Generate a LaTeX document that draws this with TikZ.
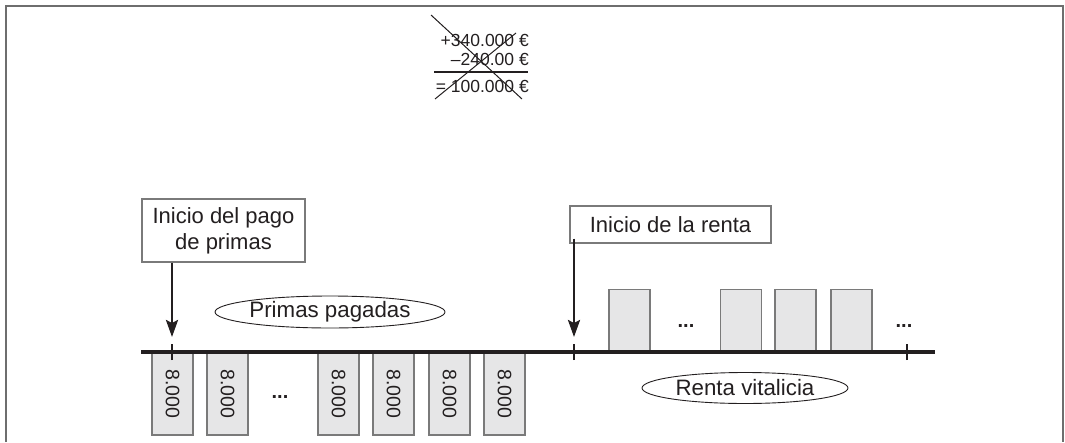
\documentclass[tikz,border=0pt]{standalone}
\usepackage{fontspec}
\setmainfont{Liberation Sans}
\usetikzlibrary{shapes.geometric,arrows.meta}
\definecolor{ink}{HTML}{231F20}
\definecolor{framegray}{HTML}{6E6E6E}
\definecolor{boxgray}{HTML}{7A7A7A}
\definecolor{boxfill}{HTML}{E6E6E7}
\begin{document}
\begin{tikzpicture}[x=1pt,y=-1pt,
  every node/.style={text=ink},
  lblbox/.style={draw=boxgray, line width=1.4, fill=white, inner sep=0, align=center, font=\fontsize{22}{26}\selectfont},
  paybox/.style={draw=boxgray, line width=1.2, fill=boxfill, inner sep=0, minimum width=41, font=\fontsize{19.5}{22}\selectfont},
  oval/.style={draw=ink, line width=0.9, ellipse, inner sep=0, font=\fontsize{22.3}{26}\selectfont},
  downarrow/.style={draw=ink, line width=2.6, -{Stealth[length=17,width=12,inset=3]}},
  tickmark/.style={draw=ink, line width=2.4},
  fml/.style={anchor=base east, inner sep=0, font=\fontsize{17.5}{20}\selectfont},
  dotsl/.style={font=\fontsize{20}{22}\selectfont\bfseries, inner sep=0}
]
\useasboundingbox (0,0) rectangle (1065,442);
% frame (open at bottom)
\draw[framegray, line width=2] (6,442) -- (6,6) -- (1063,6) -- (1063,442);

% formula
\node[fml] (f1) at (529,46) {+340.000 €};
\node[fml] (f2) at (529,65) {–240.00 €};
\node[fml] (f3) at (529,92) {= 100.000 €};
\draw[ink, line width=1.2] (434,72) -- (528,72);
\draw[ink, line width=1] (431,15) -- (522,99);
\draw[ink, line width=1] (516,33) -- (435,99);

% positions on axis
\coordinate (axL) at (141,352);
\coordinate (axR) at (935,352);
\coordinate (t1) at (172,352);
\coordinate (t2) at (574,352);
\coordinate (t3) at (907,352);
\coordinate (a1) at (172,337);
\coordinate (a2) at (574,337);

% payment boxes below axis (primas)
\foreach \x/\n in {172.5/p1, 227.5/p2, 338.5/p3, 393.5/p4, 449.5/p5, 504.5/p6}{
  \node[paybox, rotate=-90, minimum width=82, minimum height=41] (\n) at (\x,394) {8.000};
}
\node[dotsl] (d1) at (280,397) {...};

% rent boxes above axis
\foreach \x/\n in {629.5/r1, 741/r2, 795.5/r3, 851.5/r4}{
  \node[paybox, minimum height=61, anchor=south] (\n) at (\x,351) {};
}
\node[dotsl] (d2) at (686,326) {...};
\node[dotsl] (d3) at (904,326) {...};

% axis
\draw[ink, line width=4] (axL) -- (axR);
\foreach \t in {t1,t2,t3}{
  \draw[tickmark] ([yshift=-8]\t) -- ([yshift=8]\t);
}

% label boxes
\node[lblbox, minimum width=163, minimum height=63] (b1) at (223.5,230.5) {Inicio del pago\\de primas};
\node[lblbox, minimum width=201, minimum height=37] (b2) at (670.5,224.5) {Inicio de la renta};

\draw[downarrow] (b1.south -| a1) -- (a1);
\draw[downarrow] ([yshift=5]b2.south -| a2) -- (a2);

% ovals
\node[oval, minimum width=230, minimum height=32] (o1) at (330,312) {Primas pagadas};
\node[oval, minimum width=206, minimum height=31] (o2) at (745,388) {Renta vitalicia};
\end{tikzpicture}
\end{document}
